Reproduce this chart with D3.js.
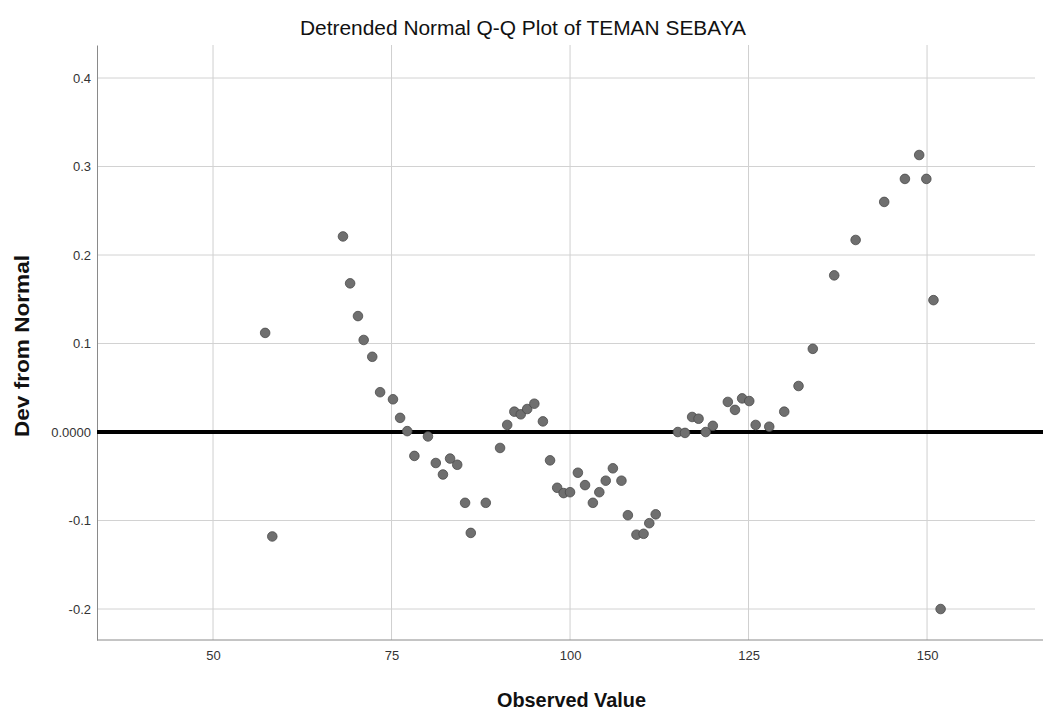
<!DOCTYPE html>
<html>
<head>
<meta charset="utf-8">
<script src="https://cdn.jsdelivr.net/npm/d3@7"></script>
<style>
  body { margin: 0; background: #fff; }
  svg { display: block; font-family: "Liberation Sans", Arial, sans-serif; }
</style>
</head>
<body>
<svg id="chart"></svg>
<script>
let width = 1043;
let height = 711;
let margin = {"top": 45, "bottom": 71, "left": 97, "right": 0};

const observed = [57.3, 58.3, 68.2, 69.2, 70.3, 71.1, 72.3, 73.4, 75.2, 76.2,
    77.2, 78.2, 80.1, 81.2, 82.2, 83.2, 84.2, 85.3, 86.1, 88.2,
    90.2, 91.2, 92.2, 93.1, 94.0, 95.0, 96.2, 97.2, 98.2, 99.1,
    100.0, 101.1, 102.1, 103.2, 104.1, 105.0, 106.0, 107.2, 108.1, 109.3,
    110.3, 111.1, 112.0, 115.1, 116.1, 117.1, 118.0, 119.0, 120.0, 122.1,
    123.1, 124.1, 125.1, 126.0, 127.9, 130.0, 132.0, 134.0, 137.0, 140.0,
    144.0, 146.9, 148.9, 149.9, 150.9, 151.9];
const deviation = [0.112, -0.118, 0.221, 0.168, 0.131, 0.104, 0.085, 0.045, 0.037, 0.016,
    0.001, -0.027, -0.005, -0.035, -0.048, -0.030, -0.037, -0.080, -0.114, -0.080,
    -0.018, 0.008, 0.023, 0.020, 0.026, 0.032, 0.012, -0.032, -0.063, -0.069,
    -0.068, -0.046, -0.060, -0.080, -0.068, -0.055, -0.041, -0.055, -0.094, -0.116,
    -0.115, -0.103, -0.093, 0.000, -0.001, 0.017, 0.015, 0.000, 0.007, 0.034,
    0.025, 0.038, 0.035, 0.008, 0.006, 0.023, 0.052, 0.094, 0.177, 0.217,
    0.260, 0.286, 0.313, 0.286, 0.149, -0.200];

const xTicks = [50, 75, 100, 125, 150];
const yTicks = [0.4, 0.3, 0.2, 0.1, 0, -0.1, -0.2];

let svg = d3.select("#chart")
    .attr("width", width)
    .attr("height", height);

let x = d3.scaleLinear()
    .domain([33.75, 166.24])
    .range([margin.left, width - margin.right]);
let y = d3.scaleLinear()
    .domain([-0.235, 0.4373])
    .range([height - margin.bottom, margin.top]);

// gridlines
svg.append("g")
    .selectAll("line.vgrid")
    .data(xTicks)
    .enter().append("line")
    .attr("x1", d => x(d)).attr("x2", d => x(d))
    .attr("y1", margin.top).attr("y2", height - margin.bottom)
    .style("stroke", "#cfcfcf")
    .style("stroke-width", 1);
svg.append("g")
    .selectAll("line.hgrid")
    .data(yTicks.filter(d => d != 0))
    .enter().append("line")
    .attr("x1", margin.left).attr("x2", 1035)
    .attr("y1", d => y(d)).attr("y2", d => y(d))
    .style("stroke", "#d2d2d2")
    .style("stroke-width", 1);

// axes
let xAxis = d3.axisBottom(x)
    .tickValues(xTicks)
    .tickSize(0)
    .tickPadding(11);
let yAxis = d3.axisLeft(y)
    .tickValues(yTicks)
    .tickSize(0)
    .tickPadding(6)
    .tickFormat(d => d == 0 ? "0.0000" : d3.format(".1f")(d).replace("\u2212", "-"));

let gx = svg.append("g")
    .attr("transform", `translate(0, ${height - margin.bottom})`)
    .call(xAxis);
let gy = svg.append("g")
    .attr("transform", `translate(${margin.left}, 0)`)
    .call(yAxis);
gx.select(".domain").style("stroke", "#8a8a8a").attr("d", `M${margin.left},0H${width}`);
gy.select(".domain").style("stroke", "#8a8a8a");
svg.selectAll(".tick text")
    .style("font-size", "13px")
    .style("fill", "#333")
    .style("font-family", "'Liberation Sans', Arial, sans-serif");

// reference line at zero
svg.append("line")
    .attr("x1", margin.left).attr("x2", width)
    .attr("y1", y(0)).attr("y2", y(0))
    .style("stroke", "#000")
    .style("stroke-width", 4);

// points
svg.append("g")
    .selectAll("circle")
    .data(observed.map((d, i) => ({obs: d, dev: deviation[i]})))
    .enter().append("circle")
    .attr("cx", d => x(d.obs))
    .attr("cy", d => y(d.dev))
    .attr("r", 4.8)
    .style("fill", "#6f6f6f")
    .style("stroke", "#4a4a4a")
    .style("stroke-width", 0.8);

// titles
svg.append("text")
    .attr("x", 300).attr("y", 35)
    .attr("textLength", 446)
    .attr("lengthAdjust", "spacingAndGlyphs")
    .style("font-size", "20px")
    .style("fill", "#111")
    .text("Detrended Normal Q-Q Plot of TEMAN SEBAYA");

svg.append("text")
    .attr("x", 497).attr("y", 707)
    .attr("textLength", 149)
    .attr("lengthAdjust", "spacingAndGlyphs")
    .style("font-size", "20px")
    .style("font-weight", "bold")
    .style("fill", "#111")
    .text("Observed Value");

svg.append("text")
    .attr("transform", "translate(29, 437) rotate(-90)")
    .attr("textLength", 182)
    .attr("lengthAdjust", "spacingAndGlyphs")
    .style("font-size", "20px")
    .style("font-weight", "bold")
    .style("fill", "#111")
    .text("Dev from Normal");
</script>
</body>
</html>
